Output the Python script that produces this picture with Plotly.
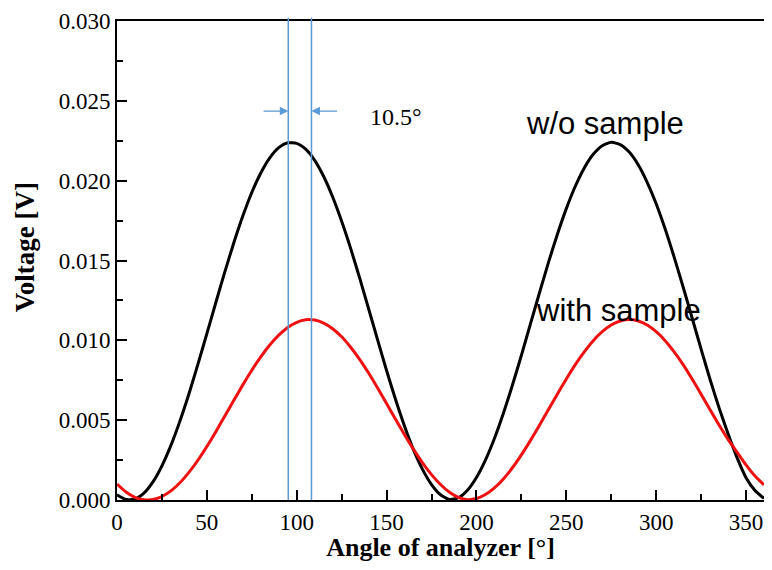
import plotly.graph_objects as go

angle = [0, 5, 10, 15, 20, 25, 30, 35, 40, 45, 50, 55, 60, 65, 70, 75, 80, 85, 90,
         95, 100, 105, 110, 115, 120, 125, 130, 135, 140, 145, 150, 155, 160, 165, 170, 175, 180,
         185, 190, 195, 200, 205, 210, 215, 220, 225, 230, 235, 240, 245, 250, 255, 260, 265, 270,
         275, 280, 285, 290, 295, 300, 305, 310, 315, 320, 325, 330, 335, 340, 345, 350, 355, 360]

without_sample = [0.00033, 0.00003, 0.00006, 0.00043, 0.00113, 0.00214, 0.00342, 0.00494, 0.00664,
                  0.00849, 0.01042, 0.01237, 0.01429, 0.01611, 0.01778, 0.01926, 0.02048, 0.02143,
                  0.02207, 0.02237, 0.02234, 0.02197, 0.02127, 0.02026, 0.01898, 0.01746, 0.01576,
                  0.01391, 0.01198, 0.01003, 0.00811, 0.00629, 0.00462, 0.00314, 0.00192, 0.00097,
                  0.00033, 0.00003, 0.00014, 0.00061, 0.00141, 0.00250, 0.00385, 0.00543, 0.00719,
                  0.00906, 0.01101, 0.01295, 0.01485, 0.01663, 0.01825, 0.01965, 0.02080, 0.02165,
                  0.02219, 0.02240, 0.02226, 0.02179, 0.02100, 0.01990, 0.01855, 0.01697, 0.01521,
                  0.01334, 0.01140, 0.00945, 0.00755, 0.00577, 0.00415, 0.00265, 0.00140, 0.00060,
                  0.00010]

with_sample = [0.00100, 0.00050, 0.00017, 0.00002, 0.00003, 0.00022, 0.00057, 0.00108, 0.00173,
               0.00249, 0.00335, 0.00428, 0.00526, 0.00624, 0.00721, 0.00813, 0.00897, 0.00971,
               0.01033, 0.01081, 0.01113, 0.01129, 0.01127, 0.01108, 0.01073, 0.01022, 0.00957,
               0.00881, 0.00795, 0.00702, 0.00604, 0.00506, 0.00409, 0.00317, 0.00233, 0.00159,
               0.00097, 0.00049, 0.00017, 0.00002, 0.00009, 0.00034, 0.00076, 0.00132, 0.00202,
               0.00283, 0.00372, 0.00467, 0.00565, 0.00663, 0.00758, 0.00848, 0.00928, 0.00998,
               0.01054, 0.01096, 0.01121, 0.01130, 0.01121, 0.01096, 0.01054, 0.00998, 0.00928,
               0.00848, 0.00758, 0.00663, 0.00565, 0.00470, 0.00380, 0.00300, 0.00220, 0.00150,
               0.00095]

marker_angles = [95.3, 108.2]
arrow_y = 0.02436
arrow_tails = [80.7, 123.3]

x_ticks = [0, 50, 100, 150, 200, 250, 300, 350]
y_ticks = [0.000, 0.005, 0.010, 0.015, 0.020, 0.025, 0.030]

serif = "Liberation Serif, Times New Roman, serif"
sans = "Liberation Sans, Arial, sans-serif"
blue = "#5b9bd5"

fig = go.Figure()
fig.add_trace(go.Scatter(x=angle, y=without_sample, mode="lines",
                         line=dict(color="black", width=3, shape="spline", smoothing=0.6),
                         name="w/o sample", showlegend=False))
fig.add_trace(go.Scatter(x=angle, y=with_sample, mode="lines",
                         line=dict(color="#ee1111", width=3, shape="spline", smoothing=0.6),
                         name="with sample", showlegend=False))

for xa in marker_angles:
    fig.add_shape(type="line", xref="x", yref="paper", x0=xa, x1=xa, y0=0, y1=1.007,
                  line=dict(color=blue, width=1.5))

for head, tail in zip(marker_angles, arrow_tails):
    fig.add_annotation(x=head, y=arrow_y, ax=tail, ay=arrow_y, xref="x", yref="y",
                       axref="x", ayref="y", text="", showarrow=True,
                       arrowhead=2, arrowsize=1.3, arrowwidth=1.3, arrowcolor=blue)

fig.add_annotation(x=155.4, y=0.0240, xref="x", yref="y", text="10.5°", showarrow=False,
                   font=dict(family=serif, size=24, color="black"))
fig.add_annotation(x=271.5, y=0.02361, xref="x", yref="y", text="w/o sample", showarrow=False,
                   font=dict(family=sans, size=31, color="black"))
fig.add_annotation(x=279, y=0.0119, xref="x", yref="y", text="with sample", showarrow=False,
                   font=dict(family=sans, size=31, color="black"))

# y-axis title placed as rotated text (slightly above the axis centre, as in the reference)
fig.add_annotation(x=-0.142, y=0.528, xref="paper", yref="paper", text="<b>Voltage [V]</b>",
                   textangle=-90, showarrow=False, xanchor="center", yanchor="middle",
                   font=dict(family=serif, size=27, color="black"))

fig.update_layout(
    width=756, height=554,
    margin=dict(l=109, r=0, t=13, b=62),
    paper_bgcolor="white", plot_bgcolor="white",
    font=dict(family=serif, color="black"),
)
fig.update_xaxes(range=[0, 360], tickvals=x_ticks, ticktext=[str(v) for v in x_ticks],
                 ticks="inside", ticklen=10, tickwidth=1.5, tickcolor="black",
                 minor=dict(dtick=25, ticks="inside", ticklen=6, tickwidth=1.5, tickcolor="black"),
                 showline=True, linecolor="black", linewidth=2, mirror=True,
                 showgrid=False, zeroline=False, automargin=False,
                 ticklabeloverflow="allow",
                 tickfont=dict(family=serif, size=23, color="black"),
                 title=dict(text="<b>Angle of analyzer [°]</b>", standoff=11,
                            font=dict(family=serif, size=26, color="black")))
fig.update_yaxes(range=[0, 0.030], tickvals=y_ticks, ticktext=[f"{v:.3f}" for v in y_ticks],
                 ticks="inside", ticklen=10, tickwidth=1.5, tickcolor="black",
                 minor=dict(dtick=0.0025, ticks="inside", ticklen=6, tickwidth=1.5, tickcolor="black"),
                 showline=True, linecolor="black", linewidth=2, mirror=True,
                 showgrid=False, zeroline=False, automargin=False,
                 tickfont=dict(family=serif, size=23, color="black"))

fig.write_html("out.html")
